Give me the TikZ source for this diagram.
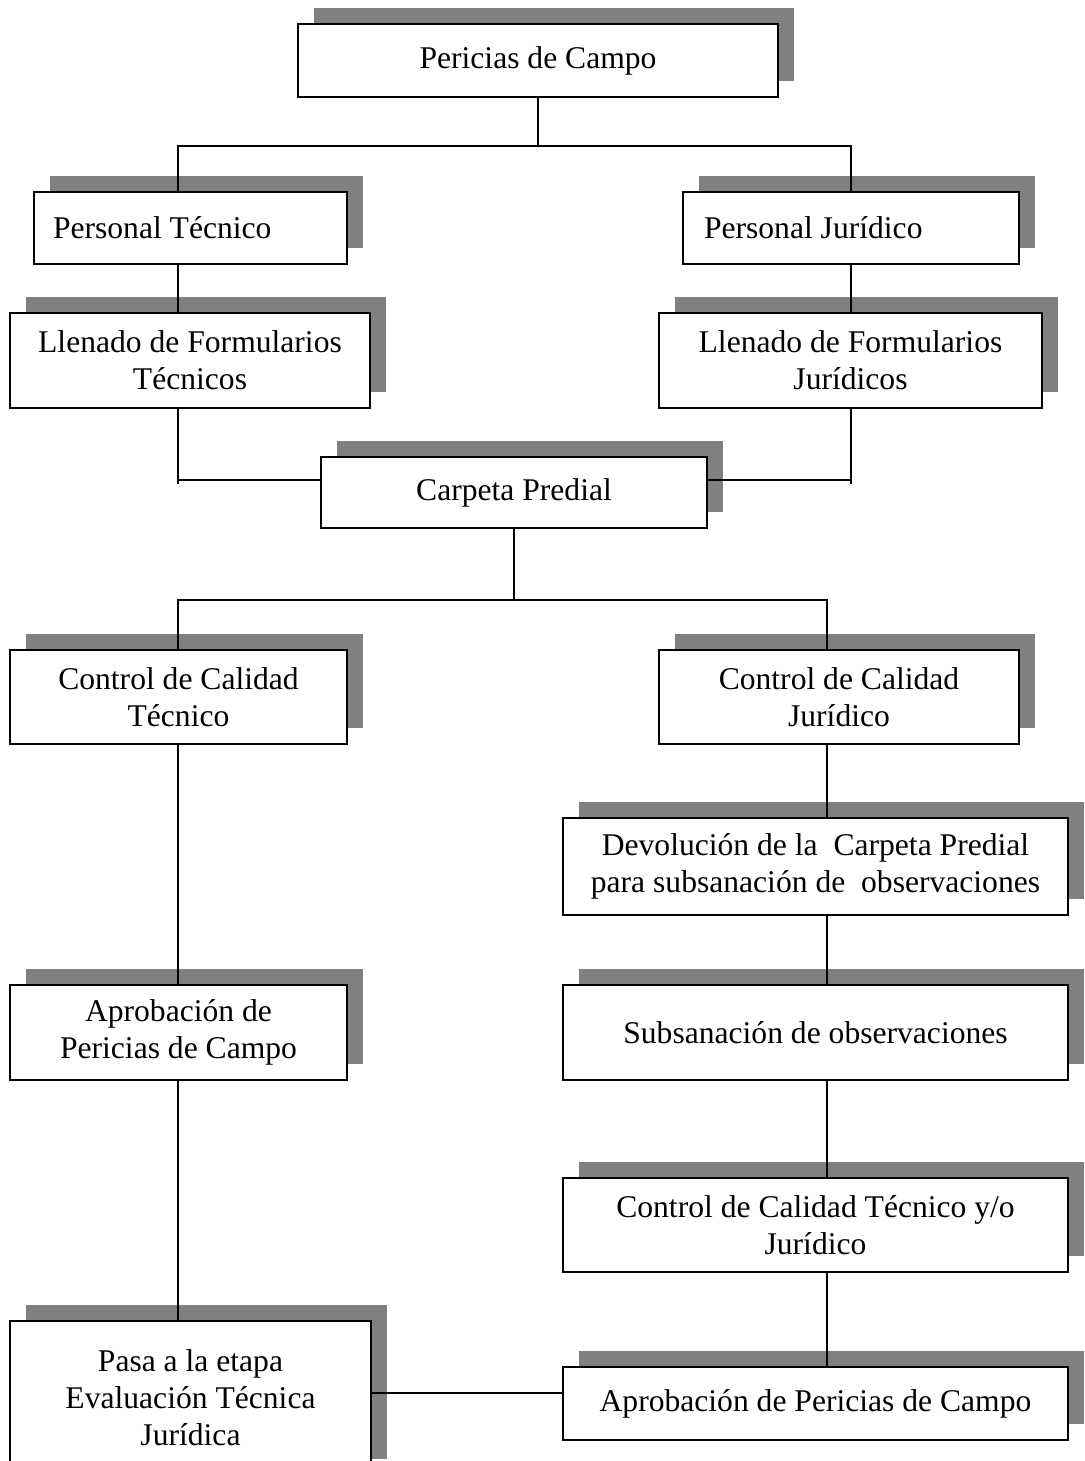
\documentclass[tikz,border=0pt]{standalone}
\usepackage{fontspec}
\setmainfont{Liberation Serif}
\usetikzlibrary{positioning,shadows,calc}
\definecolor{Shade}{HTML}{808080}

\begin{document}
\begin{tikzpicture}[
  x=0.5pt, y=-0.5pt,
  box/.style={
    draw=black, fill=white, line width=1pt,
    align=center,
    font=\fontsize{15.8}{18.5}\selectfont,
    inner sep=2pt,
    drop shadow={shadow xshift=8pt, shadow yshift=8pt, fill=Shade, opacity=1}
  },
  wh/.style 2 args={minimum width=#1, minimum height=#2},
  link/.style={draw=black, line width=0.75pt}
]
\useasboundingbox (0,0) rectangle (1084,1461);
\clip (0,0) rectangle (1084,1461);

% columns and bars for the connectors
\coordinate (colL) at (178,0);
\coordinate (colR) at (851,0);
\coordinate (colQ) at (827,0);
\coordinate (barA) at (0,146);
\coordinate (barB) at (0,480);
\coordinate (barBt) at (0,484);
\coordinate (barC) at (0,600);
\coordinate (barD) at (0,1393);

\node[box, wh={240pt}{36.5pt}] (pc) at (538,60.5) {Pericias de Campo};

\node[box, wh={156.5pt}{36pt}, text width=137.5pt, align=flush left, inner xsep=9.5pt] (pt) at (190.5,228) {Personal Técnico};
\node[box, wh={168pt}{36pt}, text width=147pt, align=flush left, inner xsep=10.5pt] (pj) at (851,228) {Personal Jurídico};

\node[box, wh={180pt}{47.5pt}] (lt) at (190,360.5) {Llenado de Formularios\\Técnicos};
\node[box, wh={191.5pt}{47.5pt}] (lj) at (850.5,360.5) {Llenado de Formularios\\Jurídicos};

\node[box, wh={193pt}{35.5pt}] (cp) at (514,492.5) {Carpeta Predial};

\node[box, wh={168.5pt}{47pt}] (cct) at (178.5,697) {Control de Calidad\\Técnico};
\node[box, wh={180pt}{47pt}] (ccj) at (839,697) {Control de Calidad\\Jurídico};

\node[box, wh={252.5pt}{48.5pt}] (dev) at (815.5,866.5) {Devolución de la\ \ Carpeta Predial\\para subsanación de\ \ observaciones};
\node[box, wh={252.5pt}{47.5pt}] (sub) at (815.5,1032.5) {Subsanación de observaciones};
\node[box, wh={252.5pt}{47pt}] (ccy) at (815.5,1225) {Control de Calidad Técnico y/o\\Jurídico};
\node[box, wh={252.5pt}{36.5pt}] (apr) at (815.5,1403.5) {Aprobación de Pericias de Campo};

\node[box, wh={168.5pt}{47.5pt}] (apl) at (178.5,1032.5) {Aprobación de\\Pericias de Campo};
\node[box, wh={180.5pt}{77pt}] (pasa) at (190.5,1398) {Pasa a la etapa\\Evaluación Técnica\\Jurídica};

% top split
\draw[link] (pc.south) -- (pc.south |- barA);
\draw[link] (pt.north -| colL) -- (colL |- barA) -- (colR |- barA) -- (pj.north -| colR);
\draw[link] (pt.south -| colL) -- (lt.north -| colL);
\draw[link] (pj.south -| colR) -- (lj.north -| colR);

% merge into the folder
\draw[link] (lt.south -| colL) -- (colL |- barBt);
\draw[link] (colL |- barB) -- (cp.west |- barB);
\draw[link] (lj.south -| colR) -- (colR |- barBt);
\draw[link] (colR |- barB) -- (cp.east |- barB);

% second split
\draw[link] (cp.south) -- (cp.south |- barC);
\draw[link] (cct.north -| colL) -- (colL |- barC) -- (colQ |- barC) -- (ccj.north -| colQ);

% left chain
\draw[link] (cct.south -| colL) -- (apl.north -| colL);
\draw[link] (apl.south -| colL) -- (pasa.north -| colL);

% right chain
\draw[link] (ccj.south -| colQ) -- (dev.north -| colQ);
\draw[link] (dev.south -| colQ) -- (sub.north -| colQ);
\draw[link] (sub.south -| colQ) -- (ccy.north -| colQ);
\draw[link] (ccy.south -| colQ) -- (apr.north -| colQ);

\draw[link] (pasa.east |- barD) -- (apr.west |- barD);
\end{tikzpicture}
\end{document}
